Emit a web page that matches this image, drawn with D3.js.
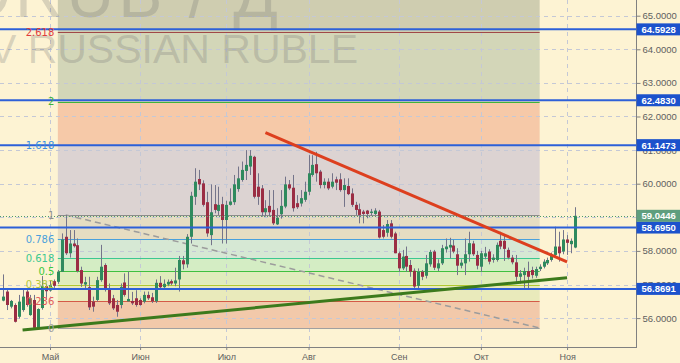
<!DOCTYPE html>
<html>
<head>
<meta charset="utf-8">
<script src="https://cdn.jsdelivr.net/npm/d3@7"></script>
<style>
  body { margin: 0; background: #fdf3d3; }
  svg { display: block; }
</style>
</head>
<body>
<div id="chart"></div>
<script>
// Daily candles, 13 Apr 2017 .. 3 Nov 2017 (weekdays only)
const opens = [56.52,56.79,56.34,56.39,56.04,56.24,56.79,56.09,56.54,55.71,
  56.30,56.95,56.82,57.10,57.08,57.38,58.42,57.93,58.22,58.17,
  57.43,57.00,56.92,56.49,56.54,57.13,57.58,56.86,56.59,56.39,
  56.39,57.06,56.50,56.51,56.59,56.54,56.49,56.69,56.62,56.50,
  57.05,56.92,57.00,57.10,57.03,57.15,57.72,57.60,58.42,59.61,
  60.14,60.01,59.45,58.47,59.39,59.19,59.39,58.92,59.37,59.45,
  59.84,60.11,60.38,60.51,60.80,59.91,59.86,59.15,59.34,59.22,
  58.79,59.09,59.32,59.98,59.88,59.42,59.41,59.52,59.76,60.26,
  60.58,60.36,59.96,60.06,59.91,60.13,60.13,59.81,59.93,59.71,
  59.37,59.24,59.17,59.20,59.13,59.10,59.17,58.62,58.54,58.82,
  58.52,57.93,57.48,57.85,57.58,57.41,56.96,57.38,57.26,57.60,
  57.98,57.48,57.63,58.05,58.10,58.16,57.90,57.56,57.63,57.90,
  58.22,57.88,57.53,57.83,57.98,57.73,57.73,58.30,58.30,58.03,
  57.80,57.66,57.23,57.28,57.40,57.43,57.26,57.46,57.53,57.63,
  57.73,57.88,58.13,57.98,58.34,58.20,58.10];
const highs = [57.30,56.84,56.54,56.44,56.69,56.89,56.84,56.69,56.69,56.29,
  57.25,57.03,57.13,57.15,57.43,58.52,59.07,58.62,58.62,58.37,
  57.53,57.23,57.23,56.64,57.23,58.18,57.63,57.03,56.69,56.54,
  57.03,57.33,57.38,56.78,56.83,56.59,56.79,56.79,56.75,57.15,
  57.25,57.15,57.15,57.15,57.50,57.85,57.85,58.50,59.76,60.46,
  60.41,60.10,59.76,59.98,59.96,59.91,59.61,59.49,59.86,60.26,
  60.51,60.66,61.00,61.00,60.83,60.31,59.96,59.51,59.81,59.81,
  59.27,59.81,60.21,60.11,60.26,59.66,59.81,60.06,60.85,60.85,
  60.95,60.41,60.16,60.16,60.31,60.21,60.31,60.16,60.16,59.86,
  59.46,59.41,59.22,59.22,59.25,59.27,59.22,58.77,58.92,58.92,
  58.57,57.98,58.03,58.13,57.73,57.48,57.48,57.43,57.88,58.03,
  58.03,57.75,58.18,58.37,58.39,58.33,58.08,57.75,58.37,58.57,
  58.30,58.00,58.00,58.12,58.05,57.90,58.25,58.57,58.45,58.10,
  57.88,57.88,57.43,57.50,57.68,57.53,57.53,57.60,57.75,57.80,
  57.95,58.72,58.57,58.62,58.47,58.37,59.30];
const lows = [56.50,56.24,56.29,55.87,55.99,56.19,56.34,56.07,55.70,55.70,
  56.25,56.54,56.79,56.90,57.02,57.38,57.88,57.80,58.10,57.36,
  56.93,56.84,56.24,56.19,56.49,57.08,56.79,56.39,56.24,56.04,
  56.29,56.64,56.49,56.39,56.34,56.37,56.44,56.54,56.45,56.45,
  56.85,56.85,56.95,56.98,56.95,56.79,57.45,57.50,58.22,59.37,
  59.81,59.32,58.42,58.17,59.12,59.07,58.22,58.22,59.35,59.37,
  59.76,60.06,60.11,60.26,59.56,59.37,59.02,59.02,59.02,58.77,
  58.77,58.96,59.27,59.81,59.17,59.25,59.32,59.46,59.66,60.21,
  60.06,59.86,59.86,59.81,59.86,59.81,59.76,59.31,59.66,59.31,
  59.07,58.82,58.82,58.97,59.05,59.07,58.37,58.37,58.42,58.37,
  57.93,57.38,57.43,57.38,57.23,56.84,56.88,57.13,57.18,57.53,
  57.43,57.40,57.58,57.95,57.78,57.93,57.28,57.48,57.28,57.68,
  57.85,57.45,57.38,57.75,57.60,57.65,57.68,58.05,57.70,57.75,
  57.60,57.03,57.03,56.90,56.88,57.18,57.20,57.40,57.48,57.58,
  57.68,57.83,57.68,57.90,57.88,57.93,58.08];
const closes = [56.64,56.39,56.51,55.89,56.49,56.64,56.39,56.59,55.71,56.27,
  56.95,56.80,56.98,56.96,57.38,58.34,57.93,58.22,58.14,57.40,
  57.03,57.07,56.32,56.34,57.13,57.53,56.84,56.44,56.29,56.19,
  56.93,56.69,56.57,56.44,56.39,56.39,56.69,56.59,56.50,57.05,
  56.92,57.02,57.08,57.03,57.12,57.73,57.60,58.42,59.64,60.06,
  59.98,59.37,58.52,59.15,59.22,59.37,58.92,59.37,59.47,59.98,
  60.16,60.41,60.56,60.83,59.61,59.61,59.15,59.27,59.15,58.82,
  58.99,59.34,59.98,59.86,59.27,59.30,59.57,59.76,60.31,60.56,
  60.31,59.96,60.06,59.86,60.06,60.03,59.81,59.96,59.69,59.37,
  59.22,59.07,59.10,59.10,59.17,59.20,58.40,58.42,58.80,58.42,
  57.93,57.48,57.83,57.53,57.38,56.94,57.38,57.23,57.63,57.97,
  57.50,57.63,58.08,58.13,58.18,57.98,57.56,57.65,57.90,58.23,
  57.90,57.56,57.93,57.93,57.68,57.80,58.18,58.13,58.06,57.80,
  57.66,57.23,57.33,57.40,57.23,57.28,57.46,57.53,57.68,57.73,
  57.88,58.13,57.93,58.34,58.24,58.30,59.0446];

const monthNames = ["Май", "Июн", "Июл", "Авг", "Сен", "Окт", "Ноя"];
const priceTicks = [56, 57, 58, 59, 60, 61, 62, 63, 64, 65];

// horizontal levels (blue) and last price
const levels = [64.5928, 62.4830, 61.1473, 58.6950, 56.8691];
const lastPrice = 59.0446;

// fibonacci grid
const fibLevels = [0, 0.236, 0.382, 0.5, 0.618, 0.786, 1, 1.618, 2, 2.618];
const fibLabels = ["0", "0.236", "0.382", "0.5", "0.618", "0.786", "1", "1.618", "2", "2.618"];
const fibLow = 55.705, fibHigh = 59.07;
const fibStart = "2017-05-03", fibEnd = "2017-10-23";
const fibAnchors = [["2017-05-05", 59.07], ["2017-10-23", 55.705]];

// trend lines
const resistance = [["2017-07-17", 61.52], ["2017-11-01", 57.675]];
const support = [["2017-04-20", 55.645], ["2017-11-01", 57.20]];

const fibFill = ["#f2c9aa", "#e9eabb", "#e0ecbc", "#d4edc4", "#d6e8d4", "#e6ddc2", "#dcd3d2", "#f6c9a8", "#d3d6b8", "#cfcdb0"];
const fibLine = ["#a0a0a0", "#d45a48", "#b0c830", "#40c040", "#3cc890", "#4aa0dc", "#8c8c8c", "#3a80e0", "#3cb43c", "#a04848"];
const fibText = ["#a0a0a0", "#e05a5a", "#b4c83c", "#3cc83c", "#3cc890", "#4aa0dc", "#909090", "#3a8ee0", "#3cb43c", "#e03c3c"];

const width = 680, height = 363;
const plotRight = 636.5, plotBottom = 347;

const fmtDay = d3.timeFormat("%Y-%m-%d");
const dates = d3.timeDay.range(new Date(2017, 3, 13), new Date(2017, 10, 4))
    .filter(d => d.getDay() !== 0 && d.getDay() !== 6);
const dayIndex = new Map(dates.map((d, i) => [fmtDay(d), i]));

const x = d3.scaleLinear().domain([0, dates.length - 1]).range([3, 574.9]);
const y = d3.scaleLinear().domain([55.14, 65.467]).range([plotBottom, 0]);
const xd = s => x(dayIndex.get(s));

const monthStarts = [];
dates.forEach((d, i) => {
    if (i > 0 && d.getMonth() !== dates[i - 1].getMonth()) monthStarts.push(i);
});

const svg = d3.select("#chart").append("svg")
    .attr("width", width)
    .attr("height", height)
    .style("font-family", "'DejaVu Sans', sans-serif");

svg.append("rect").attr("width", width).attr("height", height).attr("fill", "#fdf3d3");

svg.append("clipPath").attr("id", "plot")
    .append("rect").attr("width", plotRight).attr("height", plotBottom);

const g = svg.append("g").attr("clip-path", "url(#plot)");

// fib fills
const fibVal = l => fibLow + l * (fibHigh - fibLow);
const fx0 = xd(fibStart), fx1 = xd(fibEnd);
fibLevels.forEach((l, i) => {
    const top = i < fibLevels.length - 1 ? y(fibVal(fibLevels[i + 1])) : 0;
    g.append("rect")
        .attr("x", fx0)
        .attr("y", top)
        .attr("width", fx1 - fx0)
        .attr("height", y(fibVal(l)) - top)
        .attr("fill", fibFill[i]);
});

// grid
g.selectAll(".hgrid").data(priceTicks).enter().append("line")
    .attr("x1", 0).attr("x2", plotRight)
    .attr("y1", d => Math.round(y(d)) + 0.5).attr("y2", d => Math.round(y(d)) + 0.5)
    .attr("stroke", "#c4c8d6").attr("stroke-dasharray", "4,4");
g.selectAll(".vgrid").data(monthStarts).enter().append("line")
    .attr("x1", d => Math.round(x(d)) + 0.5).attr("x2", d => Math.round(x(d)) + 0.5)
    .attr("y1", 0).attr("y2", plotBottom)
    .attr("stroke", "#c4c8d6").attr("stroke-dasharray", "4,4");

// watermark
g.append("text")
    .attr("x", 282).attr("y", 17)
    .attr("text-anchor", "end")
    .style("font-family", "'Liberation Sans', Arial, sans-serif")
    .style("font-size", "66px")
    .attr("letter-spacing", 4)
    .attr("fill", "#707070").attr("fill-opacity", 0.26)
    .text("USDRUB / Д");
g.append("text")
    .attr("x", 358).attr("y", 63)
    .attr("text-anchor", "end")
    .style("font-family", "'Liberation Sans', Arial, sans-serif")
    .style("font-size", "41px")
    .attr("fill", "#707070").attr("fill-opacity", 0.26)
    .text("US DOLLAR V RUSSIAN RUBLE");

// fib lines
fibLevels.forEach((l, i) => {
    const yy = Math.round(y(fibVal(l))) + 0.5;
    g.append("line")
        .attr("x1", fx0).attr("x2", fx1)
        .attr("y1", yy).attr("y2", yy)
        .attr("stroke", fibLine[i]).attr("stroke-width", 1.2);
});

// fib diagonal
g.append("line")
    .attr("x1", xd(fibAnchors[0][0])).attr("y1", y(fibAnchors[0][1]))
    .attr("x2", xd(fibAnchors[1][0])).attr("y2", y(fibAnchors[1][1]))
    .attr("stroke", "#9c9c9c").attr("stroke-width", 1.5)
    .attr("stroke-dasharray", "6,4");

// candles
const candles = g.selectAll(".candle").data(dates).enter().append("g");
candles.append("line")
    .attr("x1", (d, i) => Math.round(x(i)) + 0.5)
    .attr("x2", (d, i) => Math.round(x(i)) + 0.5)
    .attr("y1", (d, i) => y(highs[i]))
    .attr("y2", (d, i) => y(lows[i]))
    .attr("stroke", "#74748a").attr("stroke-width", 1);
candles.append("rect")
    .attr("x", (d, i) => Math.round(x(i)) - 1)
    .attr("width", 3)
    .attr("y", (d, i) => y(Math.max(opens[i], closes[i])))
    .attr("height", (d, i) => Math.max(1, Math.abs(y(opens[i]) - y(closes[i]))))
    .attr("fill", (d, i) => closes[i] >= opens[i] ? "#2f8a5e" : "#9b2d44");

// last price dotted line
g.append("line")
    .attr("x1", 0).attr("x2", plotRight)
    .attr("y1", Math.round(y(lastPrice)) + 0.5).attr("y2", Math.round(y(lastPrice)) + 0.5)
    .attr("stroke", "#4f9a6e").attr("stroke-dasharray", "1,2");

// blue levels
g.selectAll(".level").data(levels).enter().append("line")
    .attr("x1", 0).attr("x2", plotRight)
    .attr("y1", d => y(d)).attr("y2", d => y(d))
    .attr("stroke", "#2d60d8").attr("stroke-width", 2);

// trend lines
g.append("line")
    .attr("x1", xd(resistance[0][0])).attr("y1", y(resistance[0][1]))
    .attr("x2", xd(resistance[1][0])).attr("y2", y(resistance[1][1]))
    .attr("stroke", "#dd3f1e").attr("stroke-width", 3);
g.append("line")
    .attr("x1", xd(support[0][0])).attr("y1", y(support[0][1]))
    .attr("x2", xd(support[1][0])).attr("y2", y(support[1][1]))
    .attr("stroke", "#3c7a1c").attr("stroke-width", 3);

// fib labels
fibLevels.forEach((l, i) => {
    g.append("text")
        .attr("x", fx0 - 3.5)
        .attr("y", y(fibVal(l)))
        .attr("dy", "0.36em")
        .attr("text-anchor", "end")
        .style("font-size", "10px")
        .attr("fill", fibText[i])
        .text(fibLabels[i]);
});

// borders
svg.append("line")
    .attr("x1", 0).attr("x2", plotRight).attr("y1", plotBottom + 0.5).attr("y2", plotBottom + 0.5)
    .attr("stroke", "#808080");
svg.append("line")
    .attr("x1", plotRight).attr("x2", plotRight).attr("y1", 0).attr("y2", plotBottom + 1)
    .attr("stroke", "#808080");

// right axis
const yAxis = svg.append("g")
    .attr("transform", "translate(" + plotRight + ",0)")
    .call(d3.axisRight(y).tickValues(priceTicks).tickFormat(d3.format(".4f")).tickSize(4).tickPadding(2));
yAxis.select(".domain").remove();
yAxis.selectAll("line").attr("stroke", "#808080");
yAxis.selectAll("text").attr("fill", "#606060").style("font-size", "9.5px")
    .style("font-family", "'Liberation Sans', Arial, sans-serif");

// bottom axis
const xAxis = svg.append("g")
    .attr("transform", "translate(0," + plotBottom + ")")
    .call(d3.axisBottom(x).tickValues(monthStarts).tickFormat((d, i) => monthNames[i]).tickSize(3).tickPadding(4));
xAxis.select(".domain").remove();
xAxis.selectAll("line").attr("stroke", "#808080");
xAxis.selectAll("text").attr("fill", "#606060").style("font-size", "9px")
    .style("font-family", "'Liberation Sans', Arial, sans-serif");

// price boxes
const boxes = levels.map(v => ({v: v, fill: "#1c52cc"})).concat([{v: lastPrice, fill: "#5f9e7e"}]);
const box = svg.selectAll(".box").data(boxes).enter().append("g")
    .attr("transform", d => "translate(" + plotRight + "," + y(d.v) + ")");
box.append("rect")
    .attr("x", 0).attr("y", -6).attr("width", width - plotRight).attr("height", 12)
    .attr("fill", d => d.fill);
box.append("text")
    .attr("x", 5).attr("dy", "0.36em")
    .attr("fill", "#ffffff")
    .style("font-size", "9.5px").style("font-weight", "bold")
    .style("font-family", "'Liberation Sans', Arial, sans-serif")
    .text(d => d3.format(".4f")(d.v));
</script>
</body>
</html>
